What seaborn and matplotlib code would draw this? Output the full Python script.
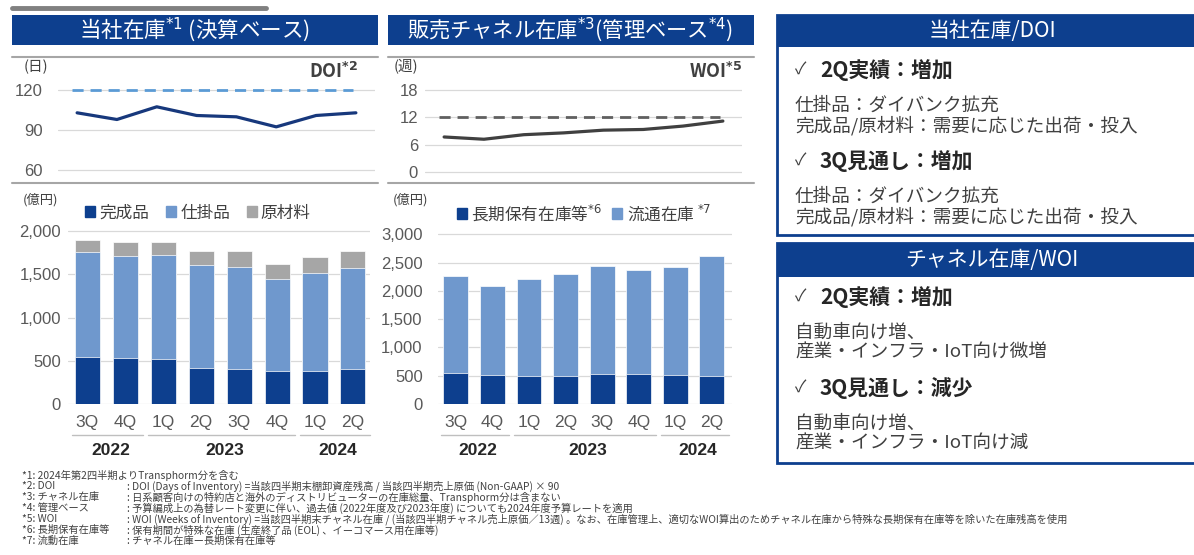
import numpy as np
import pandas as pd
import seaborn as sns
import matplotlib.pyplot as plt
from matplotlib.patches import Rectangle, Patch

# ---------------- data ----------------
quarters = ['3Q', '4Q', '1Q', '2Q', '3Q', '4Q', '1Q', '2Q']
years = [2022, 2022, 2023, 2023, 2023, 2023, 2024, 2024]

doi = [103, 98, 107.5, 101, 100, 92.5, 101, 103]
doi_target = 120
woi = [7.7, 7.2, 8.2, 8.6, 9.2, 9.35, 10.1, 11.2]
woi_target = 12

finished = [547, 528, 520, 420, 400, 381, 381, 405]      # 完成品
wip = [1214, 1187, 1203, 1187, 1188, 1064, 1130, 1163]   # 仕掛品
raw = [135, 154, 146, 162, 181, 177, 192, 201]           # 原材料

long_term = [554, 513, 495, 495, 524, 524, 513, 495]     # 長期保有在庫等
channel = [1703, 1567, 1721, 1809, 1921, 1845, 1903, 2115]  # 流通在庫

footnote_keys = ['*1: 2024年第2四半期よりTransphorm分を含む', '*2: DOI', '*3: チャネル在庫',
                 '*4: 管理ベース', '*5: WOI', '*6: 長期保有在庫等', '*7: 流動在庫']
footnote_texts = ['',
                  ': DOI (Days of Inventory) =当該四半期末棚卸資産残高 / 当該四半期売上原価 (Non-GAAP) × 90',
                  ': 日系顧客向けの特約店と海外のディストリビューターの在庫総量、Transphorm分は含まない',
                  ': 予算編成上の為替レート変更に伴い、過去値 (2022年度及び2023年度) についても2024年度予算レートを適用',
                  ': WOI (Weeks of Inventory) =当該四半期末チャネル在庫 / (当該四半期チャネル売上原価／13週) 。なお、在庫管理上、適切なWOI算出のためチャネル在庫から特殊な長期保有在庫等を除いた在庫残高を使用',
                  ': 保有期間が特殊な在庫 (生産終了品 (EOL) 、イーコマース用在庫等)',
                  ': チャネル在庫ー長期保有在庫等']

box1_title = '当社在庫/DOI'
box1_lines = [('h', '2Q実績：増加'), ('b', '仕掛品：ダイバンク拡充'), ('b', '完成品/原材料：需要に応じた出荷・投入'),
              ('h', '3Q見通し：増加'), ('b', '仕掛品：ダイバンク拡充'), ('b', '完成品/原材料：需要に応じた出荷・投入')]
box2_title = 'チャネル在庫/WOI'
box2_lines = [('h', '2Q実績：増加'), ('b', '自動車向け増、'), ('b', '産業・インフラ・IoT向け微増'),
              ('h', '3Q見通し：減少'), ('b', '自動車向け増、'), ('b', '産業・インフラ・IoT向け減')]

df = pd.DataFrame({'quarter': quarters, 'year': years, 'doi': doi, 'woi': woi,
                   'finished': finished, 'wip': wip, 'raw': raw,
                   'long_term': long_term, 'channel': channel})
df['key'] = df['quarter'] + df['year'].astype(str)
df['pos'] = np.arange(len(df))
df['wip_top'] = df['finished'] + df['wip']
df['raw_top'] = df['wip_top'] + df['raw']
df['ch_top'] = df['long_term'] + df['channel']

# ---------------- style ----------------
sns.set_style('white')
plt.rcParams['font.family'] = ['Noto Sans CJK JP', 'DejaVu Sans']
NUMFONT = ['Liberation Sans', 'DejaVu Sans']

NAVY = '#0d3f8e'
LIGHT = '#6f98cd'
GRAY = '#a6a6a6'
TXT = '#404040'
TICK = '#595959'
GRID = '#d9d9d9'

W, H = 1194, 555
fig = plt.figure(figsize=(W / 100, H / 100), dpi=100)


def fx(x):
    return x / W


def fy(y):
    return 1 - y / H


def axes_px(x0, y0, x1, y1):
    return fig.add_axes([fx(x0), fy(y1), (x1 - x0) / W, (y1 - y0) / H])


def rect_px(x0, y0, x1, y1, **kw):
    fig.add_artist(Rectangle((fx(x0), fy(y1)), (x1 - x0) / W, (y1 - y0) / H,
                             transform=fig.transFigure, **kw))


def hline_px(x0, x1, y, **kw):
    fig.add_artist(plt.Line2D([fx(x0), fx(x1)], [fy(y), fy(y)], transform=fig.transFigure, **kw))


def clean(ax, pad):
    for s in ax.spines.values():
        s.set_visible(False)
    ax.yaxis.grid(True, color=GRID, lw=0.9)
    ax.set_axisbelow(True)
    ax.tick_params(axis='both', length=0, labelsize=12, labelcolor=TICK)
    ax.tick_params(axis='y', pad=pad)
    for lab in ax.get_yticklabels() + ax.get_xticklabels():
        lab.set_fontfamily(NUMFONT)
    ax.set_xlabel('')
    ax.set_ylabel('')


# ---------------- headers ----------------
hline_px(12, 266, 8, color='#808080', lw=3.5)
rect_px(12, 15, 378, 45, color=NAVY, lw=0)
rect_px(388, 15, 754, 45, color=NAVY, lw=0)
fig.text(fx(195), fy(30), '当社在庫$^{*1}$ (決算ベース)', color='white', fontsize=15.5,
         ha='center', va='center')
fig.text(fx(570), fy(30), '販売チャネル在庫$^{*3}$(管理ベース$^{*4}$)', color='white', fontsize=15.3,
         ha='center', va='center')

for a, b in [(12, 378), (388, 754)]:
    hline_px(a, b, 57, color=GRAY, lw=1.5)
    hline_px(a, b, 183, color=GRAY, lw=1.5)


# ---------------- DOI / WOI line panels ----------------
def line_panel(x0, x1, col, target, tcolor, lcolor, ylim, ticks, pad, unit, unit_x, title, title_x):
    ax = axes_px(x0, 57, x1, 183)
    sns.lineplot(data=df, x='pos', y=col, ax=ax, color=lcolor, lw=2.3)
    ax.hlines(target, -0.12, 6.92, colors=tcolor, linestyles=(0, (4, 2.5)), lw=2)
    ax.set_ylim(*ylim)
    ax.set_xlim(-0.48, 7.48)
    ax.set_yticks(ticks)
    ax.set_xticks([])
    clean(ax, pad)
    fig.text(fx(unit_x), fy(67), unit, fontsize=10.5, color=TXT, ha='left', va='center')
    fig.text(fx(title_x), fy(72), title, fontsize=13, color=TXT, fontweight='bold',
             ha='right', va='center')
    return ax


line_panel(58, 375, 'doi', doi_target, '#5b9bd5', '#17387c', (50.5, 144.75), [60, 90, 120], 11,
           '(日)', 24, r'DOI$^{\mathbf{*2}}$', 358)
line_panel(425, 742, 'woi', woi_target, '#606060', '#404040', (-2.43, 25.3), [0, 6, 12, 18], 5,
           '(週)', 394, r'WOI$^{\mathbf{*5}}$', 742)


# ---------------- stacked bar panels ----------------
def bar_panel(x0, x1, layers, ylim, ticks, pad, xlim, width):
    ax = axes_px(x0, 215, x1, 404)
    for col, color in layers:
        sns.barplot(data=df, x='key', y=col, color=color, saturation=1, width=width,
                    edgecolor='white', linewidth=0.5, ax=ax)
    ax.set_ylim(*ylim)
    ax.set_xlim(*xlim)
    ax.set_yticks(ticks)
    ax.set_yticklabels([f'{t:,}' for t in ticks])
    ax.set_xticks(df['pos'])
    ax.set_xticklabels(quarters)
    clean(ax, pad)
    ax.tick_params(axis='x', pad=8, labelsize=12.5)
    xt = ax.get_xaxis_transform()
    for yr, grp in df.groupby('year'):
        a, b = grp['pos'].min() - 0.4, grp['pos'].max() + 0.46
        ax.plot([a, b], [-0.164, -0.164], transform=xt, color='#bfbfbf', lw=1, clip_on=False)
        ax.text((a + b) / 2 + 0.08, -0.245, str(yr), transform=xt, ha='center', va='center',
                fontsize=12.5, fontweight='bold', color='#262626', fontfamily=NUMFONT)
    return ax


axl = bar_panel(68, 370, [('raw_top', GRAY), ('wip_top', LIGHT), ('finished', NAVY)],
                (0, 2185), [0, 500, 1000, 1500, 2000], 5, (-0.51, 7.45), 0.66)
fig.text(fx(23), fy(200), '(億円)', fontsize=9.5, color=TXT, ha='left', va='center')
axl.legend([Patch(color=NAVY), Patch(color=LIGHT), Patch(color=GRAY)], ['完成品', '仕掛品', '原材料'],
           ncol=3, loc='center', bbox_to_anchor=(fx(198), fy(213)), bbox_transform=fig.transFigure,
           frameon=False, fontsize=12, handlelength=0.6, handleheight=0.6, handletextpad=0.25,
           columnspacing=1.0, labelcolor=TXT)

axm = bar_panel(438, 732, [('ch_top', LIGHT), ('long_term', NAVY)],
                (0, 3341), [0, 500, 1000, 1500, 2000, 2500, 3000], 11, (-0.486, 7.55), 0.68)
fig.text(fx(393), fy(200), '(億円)', fontsize=9.5, color=TXT, ha='left', va='center')
axm.legend([Patch(color=NAVY), Patch(color=LIGHT)], ['長期保有在庫等$^{*6}$', '流通在庫 $^{*7}$'],
           ncol=2, loc='center', bbox_to_anchor=(fx(584), fy(213)), bbox_transform=fig.transFigure,
           frameon=False, fontsize=12, handlelength=0.6, handleheight=0.6, handletextpad=0.25,
           columnspacing=0.6, labelcolor=TXT)


# ---------------- right-hand comment boxes ----------------
def comment_box(y0, y1, head_h, title, lines, ys):
    rect_px(777, y0, 1200, y1, facecolor='white', edgecolor=NAVY, lw=2)
    rect_px(777, y0, 1200, y0 + head_h, color=NAVY, lw=0)
    fig.text(fx(992), fy(y0 + head_h / 2), title, color='white', fontsize=15, ha='center', va='center')
    for (kind, s), y in zip(lines, ys):
        if kind == 'h':
            fig.text(fx(795), fy(y), '✓', fontsize=12, color=TXT, ha='left', va='center')
            fig.text(fx(820), fy(y), s, fontsize=15, fontweight='bold', color='#262626',
                     ha='left', va='center')
        else:
            fig.text(fx(795), fy(y), s, fontsize=13.4, color=TXT, ha='left', va='center')


comment_box(15, 235, 32, box1_title, box1_lines, [70, 106, 126, 161, 197, 217])
comment_box(243, 463, 34, box2_title, box2_lines, [297, 333, 353, 388, 424, 444])

# ---------------- footnotes ----------------
for i, (k, t) in enumerate(zip(footnote_keys, footnote_texts)):
    y = 475 + 11 * i
    fig.text(fx(22), fy(y), k, fontsize=7.4, color=TXT, ha='left', va='center')
    if t:
        fig.text(fx(127), fy(y), t, fontsize=7.4, color=TXT, ha='left', va='center')

fig.savefig('out.png', dpi=100)
